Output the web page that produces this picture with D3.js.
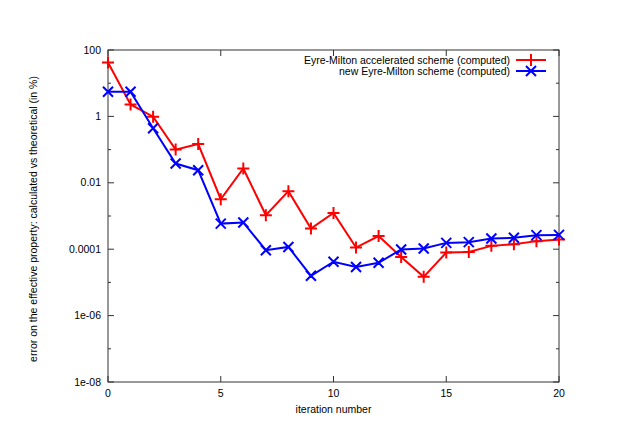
<!DOCTYPE html>
<html>
<head>
<meta charset="utf-8">
<script src="https://cdn.jsdelivr.net/npm/d3@7"></script>
<style>
body { margin: 0; background: #fff; }
text { font-family: "Liberation Sans", Arial, sans-serif; font-size: 10.5px; fill: #000; }
</style>
</head>
<body>
<div id="chart"></div>
<script>
// data
var iterations = d3.range(0, 21);
var acceleratedErr = [42, 2.3, 0.98, 0.1, 0.147, 0.0032, 0.027, 0.00106, 0.0056, 0.00042,
    0.00124, 0.000112, 0.00025, 0.000058, 0.0000147, 0.000079, 0.000083, 0.000126, 0.000142, 0.000175, 0.000196];
var newErr = [5.5, 5.5, 0.44, 0.038, 0.024, 0.00059, 0.00064, 0.000093, 0.000117, 0.0000158,
    0.000042, 0.000029, 0.000039, 0.000098, 0.000105, 0.000155, 0.000163, 0.00021, 0.00022, 0.000265, 0.00027];
var xTicks = [0, 5, 10, 15, 20];
var yTicks = [1e2, 1e1, 1, 1e-1, 1e-2, 1e-3, 1e-4, 1e-5, 1e-6, 1e-7, 1e-8];
var yLabelTicks = [100, 1, 0.01, 0.0001, 1e-6, 1e-8];
var yLabels = ["100", "1", "0.01", "0.0001", "1e-06", "1e-08"];
var seriesNames = ["Eyre-Milton accelerated scheme (computed)", "new Eyre-Milton scheme (computed)"];

var margin = {top: 50, right: 73, bottom: 64, left: 108};
var W = 632, H = 446;
var width = W - margin.left - margin.right;
var height = H - margin.top - margin.bottom;

var svg = d3.select("#chart").append("svg")
    .attr("width", W).attr("height", H)
    .append("g")
    .attr("transform", "translate(" + margin.left + "," + margin.top + ")");

var x = d3.scaleLinear().domain([0, 20]).range([0, width]);
var y = d3.scaleLog().domain([1e-8, 100]).range([height, 0]);

var axisColor = "#333";

// ticks (mirrored, inward)
yTicks.forEach(function(v) {
    var len = yLabelTicks.indexOf(v) >= 0 ? 6 : 3;
    svg.append("line").attr("x1", 0).attr("x2", len).attr("y1", y(v)).attr("y2", y(v))
        .attr("stroke", axisColor);
    svg.append("line").attr("x1", width).attr("x2", width - len).attr("y1", y(v)).attr("y2", y(v))
        .attr("stroke", axisColor);
});
yLabelTicks.forEach(function(v, i) {
    svg.append("text").attr("x", -7).attr("y", y(v)).attr("dy", "0.35em")
        .attr("text-anchor", "end").text(yLabels[i]);
});
xTicks.forEach(function(v) {
    svg.append("line").attr("x1", x(v)).attr("x2", x(v)).attr("y1", height).attr("y2", height - 6)
        .attr("stroke", axisColor);
    svg.append("line").attr("x1", x(v)).attr("x2", x(v)).attr("y1", 0).attr("y2", 6)
        .attr("stroke", axisColor);
    svg.append("text").attr("x", x(v)).attr("y", height + 15)
        .attr("text-anchor", "middle").text(v);
});

svg.append("rect").attr("width", width).attr("height", height)
    .attr("fill", "none").attr("stroke", axisColor).attr("stroke-width", 1);

// axis titles
svg.append("text").attr("x", width / 2).attr("y", height + 31)
    .attr("text-anchor", "middle").text("iteration number");
svg.append("text")
    .attr("transform", "translate(" + (-71) + "," + (height / 2 + 3) + ") rotate(-90)")
    .attr("text-anchor", "middle")
    .text("error on the effective property: calculated vs theoretical (in %)");

var line = d3.line()
    .x(function(d) { return x(d[0]); })
    .y(function(d) { return y(d[1]); });

function plusPath(cx, cy, r) {
    return "M" + (cx - r) + "," + cy + "H" + (cx + r) + "M" + cx + "," + (cy - r) + "V" + (cy + r);
}
function crossPath(cx, cy, r) {
    return "M" + (cx - r) + "," + (cy - r) + "L" + (cx + r) + "," + (cy + r) +
        "M" + (cx - r) + "," + (cy + r) + "L" + (cx + r) + "," + (cy - r);
}

var series = [
    {name: seriesNames[0], values: acceleratedErr, color: "#ff0000", marker: plusPath, r: 6},
    {name: seriesNames[1], values: newErr, color: "#0000ff", marker: crossPath, r: 5}
];

series.forEach(function(s) {
    var pts = iterations.map(function(it, i) { return [it, s.values[i]]; });
    svg.append("path").datum(pts)
        .attr("fill", "none").attr("stroke", s.color).attr("stroke-width", 2)
        .attr("d", line);
    svg.append("path")
        .attr("fill", "none").attr("stroke", s.color).attr("stroke-width", 2)
        .attr("d", pts.map(function(p) { return s.marker(x(p[0]), y(p[1]), s.r); }).join(""));
});

// legend
var legend = svg.selectAll("g.legendEntry").data(series).enter()
    .append("g").attr("class", "legendEntry")
    .attr("transform", function(d, i) { return "translate(0," + (10 + i * 11) + ")"; });
legend.append("text").attr("x", 402).attr("dy", "0.35em")
    .attr("text-anchor", "end").text(function(d) { return d.name; });
legend.append("line").attr("x1", 408).attr("x2", 438).attr("y1", 0).attr("y2", 0)
    .attr("stroke", function(d) { return d.color; }).attr("stroke-width", 2);
legend.append("path").attr("fill", "none")
    .attr("stroke", function(d) { return d.color; }).attr("stroke-width", 2)
    .attr("d", function(d) { return d.marker(423, 0, d.r); });
</script>
</body>
</html>
